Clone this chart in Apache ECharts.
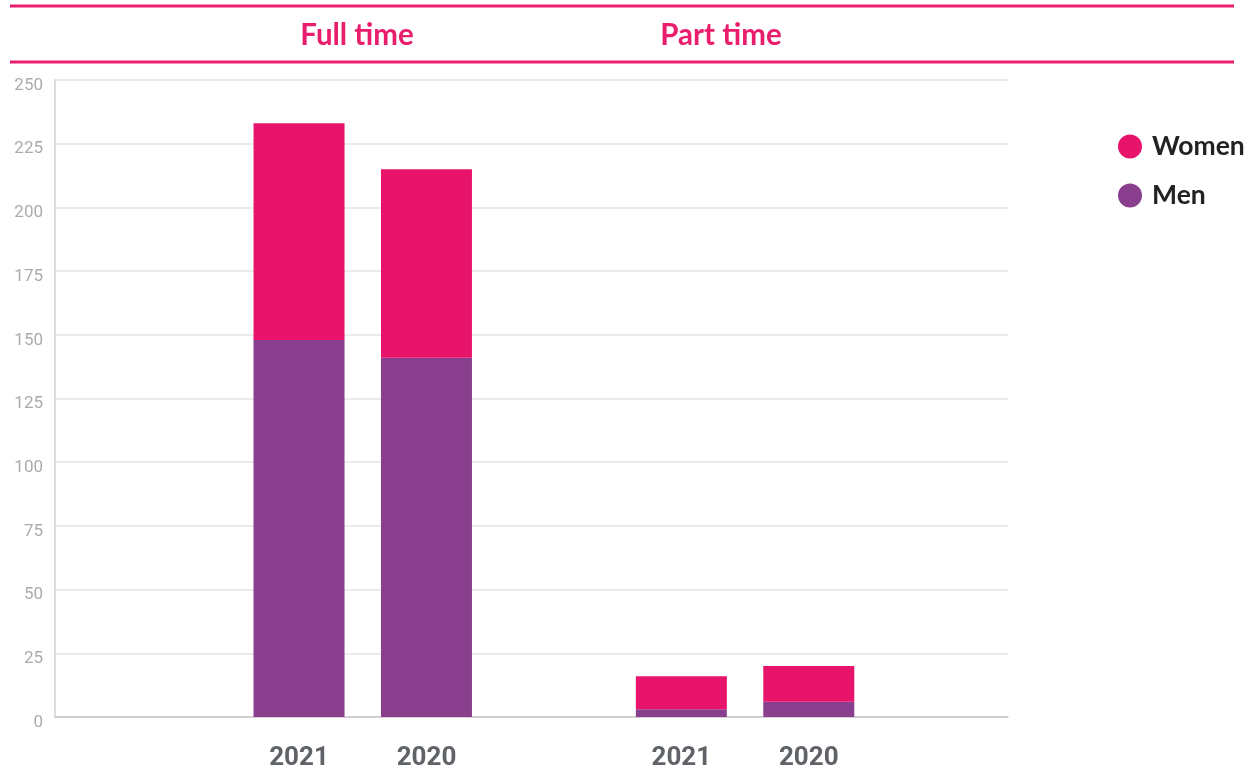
<!DOCTYPE html>
<html>
<head>
<meta charset="utf-8">
<title>Employees by contract type</title>
<script src="https://cdn.jsdelivr.net/npm/echarts@6/dist/echarts.min.js"></script>
<style>
  html, body { margin: 0; padding: 0; background: #ffffff; }
  #chart { width: 1258px; height: 771px; }
</style>
</head>
<body>
<div id="chart"></div>
<script>
// Headcount by contract type and year
const groupTitles = ['Full time', 'Part time'];
const categories = ['2021', '2020', '', '2021', '2020'];
const women = [85, 74, null, 13, 14];
const men = [148, 141, null, 3, 6];
const yTicks = { min: 0, max: 250, step: 25 };

const PINK = '#E8136B';
const PURPLE = '#893E8E';
const HEAD = '#E91E6D';

const chart = echarts.init(document.getElementById('chart'), null, { renderer: 'canvas' });

const plotTop = 80, plotBottom = 54;

chart.setOption({
  animation: false,
  backgroundColor: '#ffffff',
  legend: {
    orient: 'vertical',
    left: 1118,
    top: 133,
    padding: 0,
    icon: 'circle',
    itemWidth: 24,
    itemHeight: 24,
    itemGap: 22,
    data: ['Women', 'Men'],
    textStyle: { fontFamily: 'Lato', fontWeight: 'bold', fontSize: 26.5, lineHeight: 24, color: '#222222', padding: [0, 0, 0, 5] }
  },
  graphic: [
    { type: 'line', shape: { x1: 10, y1: 6, x2: 1234, y2: 6 }, style: { stroke: HEAD, lineWidth: 3 } },
    { type: 'line', shape: { x1: 10, y1: 62, x2: 1234, y2: 62 }, style: { stroke: HEAD, lineWidth: 3 } },
    { type: 'text', x: 357, y: 35, style: { text: groupTitles[0], fill: HEAD, font: 'bold 29.5px Lato', align: 'center', verticalAlign: 'middle' } },
    { type: 'text', x: 721, y: 35, style: { text: groupTitles[1], fill: HEAD, font: 'bold 29.5px Lato', align: 'center', verticalAlign: 'middle' } }
  ],
  grid: [
    { left: 55, right: 250, top: plotTop, bottom: plotBottom, containLabel: false },
    { left: 235.3, width: 637.2, top: plotTop, bottom: plotBottom, containLabel: false }
  ],
  xAxis: [
    {
      gridIndex: 0, type: 'category', data: [''],
      axisLine: { show: true, lineStyle: { color: '#c8c8c8', width: 1.5 } },
      axisTick: { show: false }, axisLabel: { show: false }
    },
    {
      gridIndex: 1, type: 'category', data: categories,
      axisLine: { show: false }, axisTick: { show: false },
      axisLabel: { fontFamily: 'Roboto', fontWeight: 'bold', fontSize: 26, color: '#5f6368', margin: 28 }
    }
  ],
  yAxis: [
    {
      gridIndex: 0, type: 'value', min: yTicks.min, max: yTicks.max, interval: yTicks.step,
      axisLine: { show: true, lineStyle: { color: '#d0d0d0', width: 1.5 } },
      axisTick: { show: false },
      splitLine: { lineStyle: { color: '#e4e4e4', width: 1.5 } },
      axisLabel: { fontFamily: 'Roboto', fontSize: 17, color: '#ababab', margin: 12, verticalAlign: 'top', lineHeight: 11 }
    },
    {
      gridIndex: 1, type: 'value', min: yTicks.min, max: yTicks.max, interval: yTicks.step,
      show: false, splitLine: { show: false }
    }
  ],
  series: [
    {
      name: 'Men', type: 'bar', stack: 'total', xAxisIndex: 1, yAxisIndex: 1,
      data: men, barWidth: 91, itemStyle: { color: PURPLE }
    },
    {
      name: 'Women', type: 'bar', stack: 'total', xAxisIndex: 1, yAxisIndex: 1,
      data: women, barWidth: 91, itemStyle: { color: PINK }
    }
  ]
});
</script>
</body>
</html>
